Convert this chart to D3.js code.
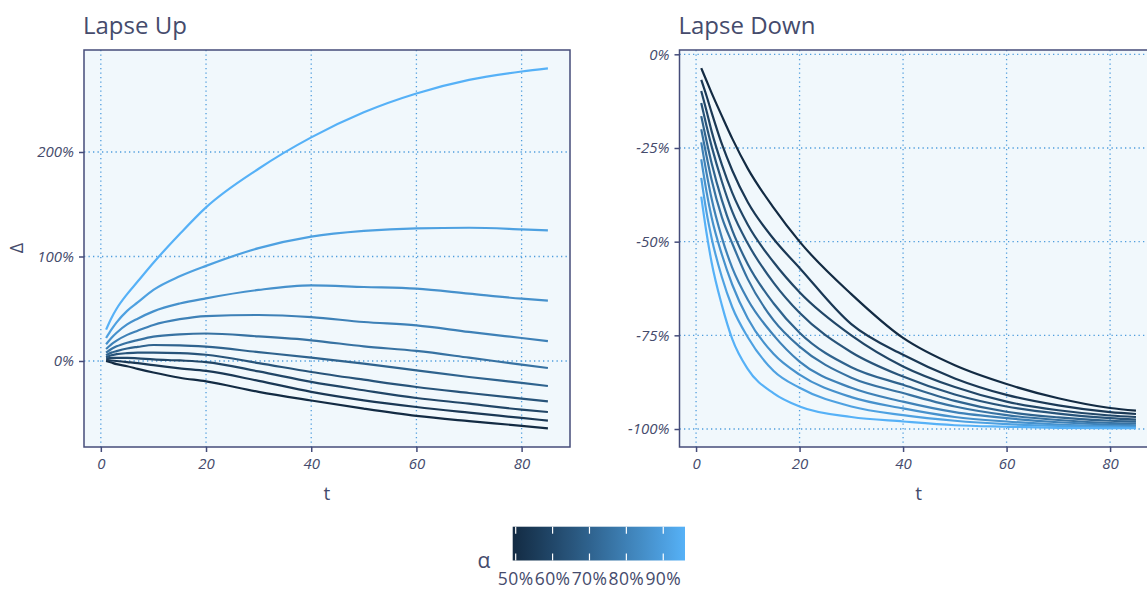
<!DOCTYPE html>
<html><head><meta charset="utf-8">
<script src="https://cdn.jsdelivr.net/npm/d3@7/dist/d3.min.js"></script>
<style>
html,body{margin:0;padding:0;background:#fff;overflow:hidden}
text{font-family:"Open Sans","Noto Sans",sans-serif}
</style></head><body>
<svg id="c" width="1147" height="589"></svg>
<script>
// ---------------- data ----------------
const alphas = [0.50,0.55,0.60,0.65,0.70,0.75,0.80,0.85,0.90,0.95];
const tPoints = [1,2,3,5,7,10,15,20,30,40,50,60,70,80,85];
// Lapse Up: Δ in % per alpha (rows follow alphas)
const upA50 = [0,-1.5,-3,-5,-7.5,-11,-16,-19.5,-29.5,-37.8,-45.6,-52.5,-57.5,-62,-64.5];
const upA55 = [1,0.5,0,-1,-2,-4,-7,-9.5,-19,-29.5,-37.6,-44,-49.4,-54.5,-57.1];
const upA60 = [2.5,3,3,3,2.5,1.5,0.5,-1,-10,-20,-28,-35.4,-40.8,-46.6,-48.8];
const upA65 = [3.5,5.5,6.5,7.5,8,8,7.5,6,-2,-10.5,-17.9,-24.9,-30.6,-36,-38.6];
const upA70 = [5.5,8,9.5,12,13.5,15.3,15,13.7,8.5,3.2,-2.5,-8.9,-15.3,-21,-23.9];
const upA75 = [8,11.5,14,17.5,20,23.3,25.5,26.3,23.5,19.8,14,9.6,3.2,-3.5,-6.7];
const upA80 = [11.5,16,19.5,25,29,34.5,40,43,44,42,37.3,34.1,27.8,22,19.1];
const upA85 = [16,22,27,35,40.5,47.5,55,60,68,72.4,70.8,69.2,64.4,59.6,57.7];
const upA90 = [22,30,37,48,56,68,81,91,108,119,124.5,127,127.5,126,125];
const upA95 = [30,41,50,64,76,94,121.5,147,184,214,238,256,269,277,280];
// Lapse Down
const dnA50 = [-3.7,-7,-10.3,-16.5,-22.5,-30.5,-41,-50,-64,-75.7,-83,-88,-91.8,-94.4,-95.1];
const dnA55 = [-6.8,-11,-15.5,-24,-31,-39.5,-49.3,-57,-72,-80.2,-86.5,-90.9,-93.7,-95.5,-96];
const dnA60 = [-9.8,-15,-20.5,-29.5,-37,-45.5,-55.5,-63.5,-75,-83.3,-88.8,-92.7,-95,-96.4,-96.8];
const dnA65 = [-13,-19,-24.5,-34,-42,-50.5,-61,-69,-79.5,-86,-90.8,-94,-95.9,-97.1,-97.5];
const dnA70 = [-16.5,-23,-29,-39,-47,-56,-66.5,-74.3,-83.5,-88.2,-92.5,-95.4,-96.9,-97.8,-98];
const dnA75 = [-20,-27,-33.5,-43.5,-50.5,-60,-71,-78,-86.3,-90.4,-94,-96.3,-97.6,-98.4,-98.5];
const dnA80 = [-23.5,-31.5,-38.5,-49,-57,-65.5,-75,-82,-89,-92.7,-95.5,-97.1,-98.2,-98.8,-99];
const dnA85 = [-28,-36.5,-43.5,-53.5,-61.5,-70.5,-80,-85.5,-91.5,-94.5,-96.8,-98,-98.8,-99.2,-99.3];
const dnA90 = [-33,-42,-49,-59.5,-67.5,-75.5,-84.5,-89,-94,-96.3,-97.8,-98.7,-99.2,-99.5,-99.6];
const dnA95 = [-38,-47.5,-55.5,-67,-76,-84,-90.5,-94,-96.8,-98,-99,-99.4,-99.7,-99.8,-99.8];
const upSeries = [upA50,upA55,upA60,upA65,upA70,upA75,upA80,upA85,upA90,upA95];
const dnSeries = [dnA50,dnA55,dnA60,dnA65,dnA70,dnA75,dnA80,dnA85,dnA90,dnA95];
const xTicks = [0,20,40,60,80];
const upYTicks = [0,100,200];
const dnYTicks = [0,-25,-50,-75,-100];
const legendTicks = [0.5,0.6,0.7,0.8,0.9];
const titles = ["Lapse Up","Lapse Down"];

// ---------------- drawing ----------------
const svg = d3.select("#c");
const TXT = "#454b6c", BORDER = "#454c7a", GRID = "#4f9ddd", BG = "#f1f8fc";
const color = d3.scaleSequential(d3.interpolateLab("#132B43","#56B1F7")).domain([0.5,0.95]);
const fmtPct = d => d + "%";

function panel(cfg){
  const {x0,x1,y0,y1,ydom,series,yticks,title} = cfg;
  const x = d3.scaleLinear().domain([-3.2,89.2]).range([x0,x1]);
  const y = d3.scaleLinear().domain(ydom).range([y1,y0]);
  const g = svg.append("g");
  const clipId = "clip"+Math.round(x0);
  g.append("clipPath").attr("id",clipId).append("rect")
    .attr("x",x0).attr("y",y0).attr("width",x1-x0).attr("height",y1-y0);
  g.append("rect").attr("x",x0).attr("y",y0).attr("width",x1-x0).attr("height",y1-y0)
    .attr("fill",BG);
  const gg = g.append("g").attr("clip-path",`url(#${clipId})`);
  gg.selectAll("line.vx").data(xTicks).join("line")
    .attr("x1",d=>x(d)).attr("x2",d=>x(d)).attr("y1",y0).attr("y2",y1)
    .attr("stroke",GRID).attr("stroke-width",1.3).attr("stroke-dasharray","1.3,3.2");
  gg.selectAll("line.hy").data(yticks).join("line")
    .attr("y1",d=>y(d)).attr("y2",d=>y(d)).attr("x1",x0).attr("x2",x1)
    .attr("stroke",GRID).attr("stroke-width",1.3).attr("stroke-dasharray","1.3,3.2");
  const line = d3.line().x((d,i)=>x(tPoints[i])).y(d=>y(d)).curve(d3.curveMonotoneX);
  const lg = g.append("g").attr("clip-path",`url(#${clipId})`);
  series.forEach((s,k)=>{
    lg.append("path").attr("d",line(s)).attr("fill","none")
      .attr("stroke",color(alphas[k])).attr("stroke-width",2.2);
  });
  g.append("rect").attr("x",x0).attr("y",y0).attr("width",x1-x0).attr("height",y1-y0)
    .attr("fill","none").attr("stroke",BORDER).attr("stroke-width",1.5);
  const ax = g.append("g").attr("transform",`translate(0,${y1})`)
    .call(d3.axisBottom(x).tickValues(xTicks).tickSize(5).tickPadding(6).tickSizeOuter(0));
  ax.select(".domain").remove();
  ax.selectAll("line").attr("stroke",BORDER).attr("stroke-width",1.5);
  ax.selectAll("text").attr("fill",TXT).style("font-size","15px").style("font-style","italic");
  const ay = g.append("g").attr("transform",`translate(${x0},0)`)
    .call(d3.axisLeft(y).tickValues(yticks).tickFormat(fmtPct).tickSize(5).tickPadding(5).tickSizeOuter(0));
  ay.select(".domain").remove();
  ay.selectAll("line").attr("stroke",BORDER).attr("stroke-width",1.5);
  ay.selectAll("text").attr("fill",TXT).style("font-size","15px").style("font-style","italic");
  g.append("text").attr("x",x0-1).attr("y",y0-16).text(title)
    .attr("fill",TXT).style("font-size","24px");
  g.append("text").attr("x",x(43)).attr("y",y1+53).attr("text-anchor","middle")
    .text("t").attr("fill",TXT).style("font-size","19px");
  return {x,y};
}

panel({x0:84,x1:570,y0:50,y1:447,ydom:[-82.3,297.6],series:upSeries,yticks:upYTicks,title:titles[0]});
panel({x0:679.5,x1:1157.7,y0:50,y1:447,ydom:[-104.8,1.15],series:dnSeries,yticks:dnYTicks,title:titles[1]});

svg.append("text").attr("transform","translate(23,248) rotate(-90)").attr("text-anchor","middle")
  .text("Δ").attr("fill",TXT).style("font-size","18px");

// legend
const lx0 = 512.7, lx1 = 685, ly0 = 526.7, ly1 = 560.5;
const lscale = d3.scaleLinear().domain([0.5,0.95]).range([515.7,681.7]);
const defs = svg.append("defs");
const grad = defs.append("linearGradient").attr("id","lg").attr("x1","0%").attr("x2","100%");
d3.range(0,1.0001,0.05).forEach(f=>{
  grad.append("stop").attr("offset",(f*100)+"%").attr("stop-color",color(0.5+0.45*f));
});
svg.append("rect").attr("x",lx0).attr("y",ly0).attr("width",lx1-lx0).attr("height",ly1-ly0)
  .attr("fill","url(#lg)");
legendTicks.forEach(v=>{
  svg.append("line").attr("x1",lscale(v)).attr("x2",lscale(v)).attr("y1",ly0).attr("y2",ly0+7)
    .attr("stroke","#fff").attr("stroke-width",1.2);
  svg.append("line").attr("x1",lscale(v)).attr("x2",lscale(v)).attr("y1",ly1-7).attr("y2",ly1)
    .attr("stroke","#fff").attr("stroke-width",1.2);
  svg.append("text").attr("x",lscale(v)).attr("y",585).attr("text-anchor","middle")
    .text(Math.round(v*100)+"%").attr("fill",TXT).style("font-size","17.5px")
    .style("letter-spacing","0.4px");
});
svg.append("text").attr("x",484).attr("y",568).attr("text-anchor","middle")
  .text("α").attr("fill",TXT).style("font-size","21px");
</script>
</body></html>
